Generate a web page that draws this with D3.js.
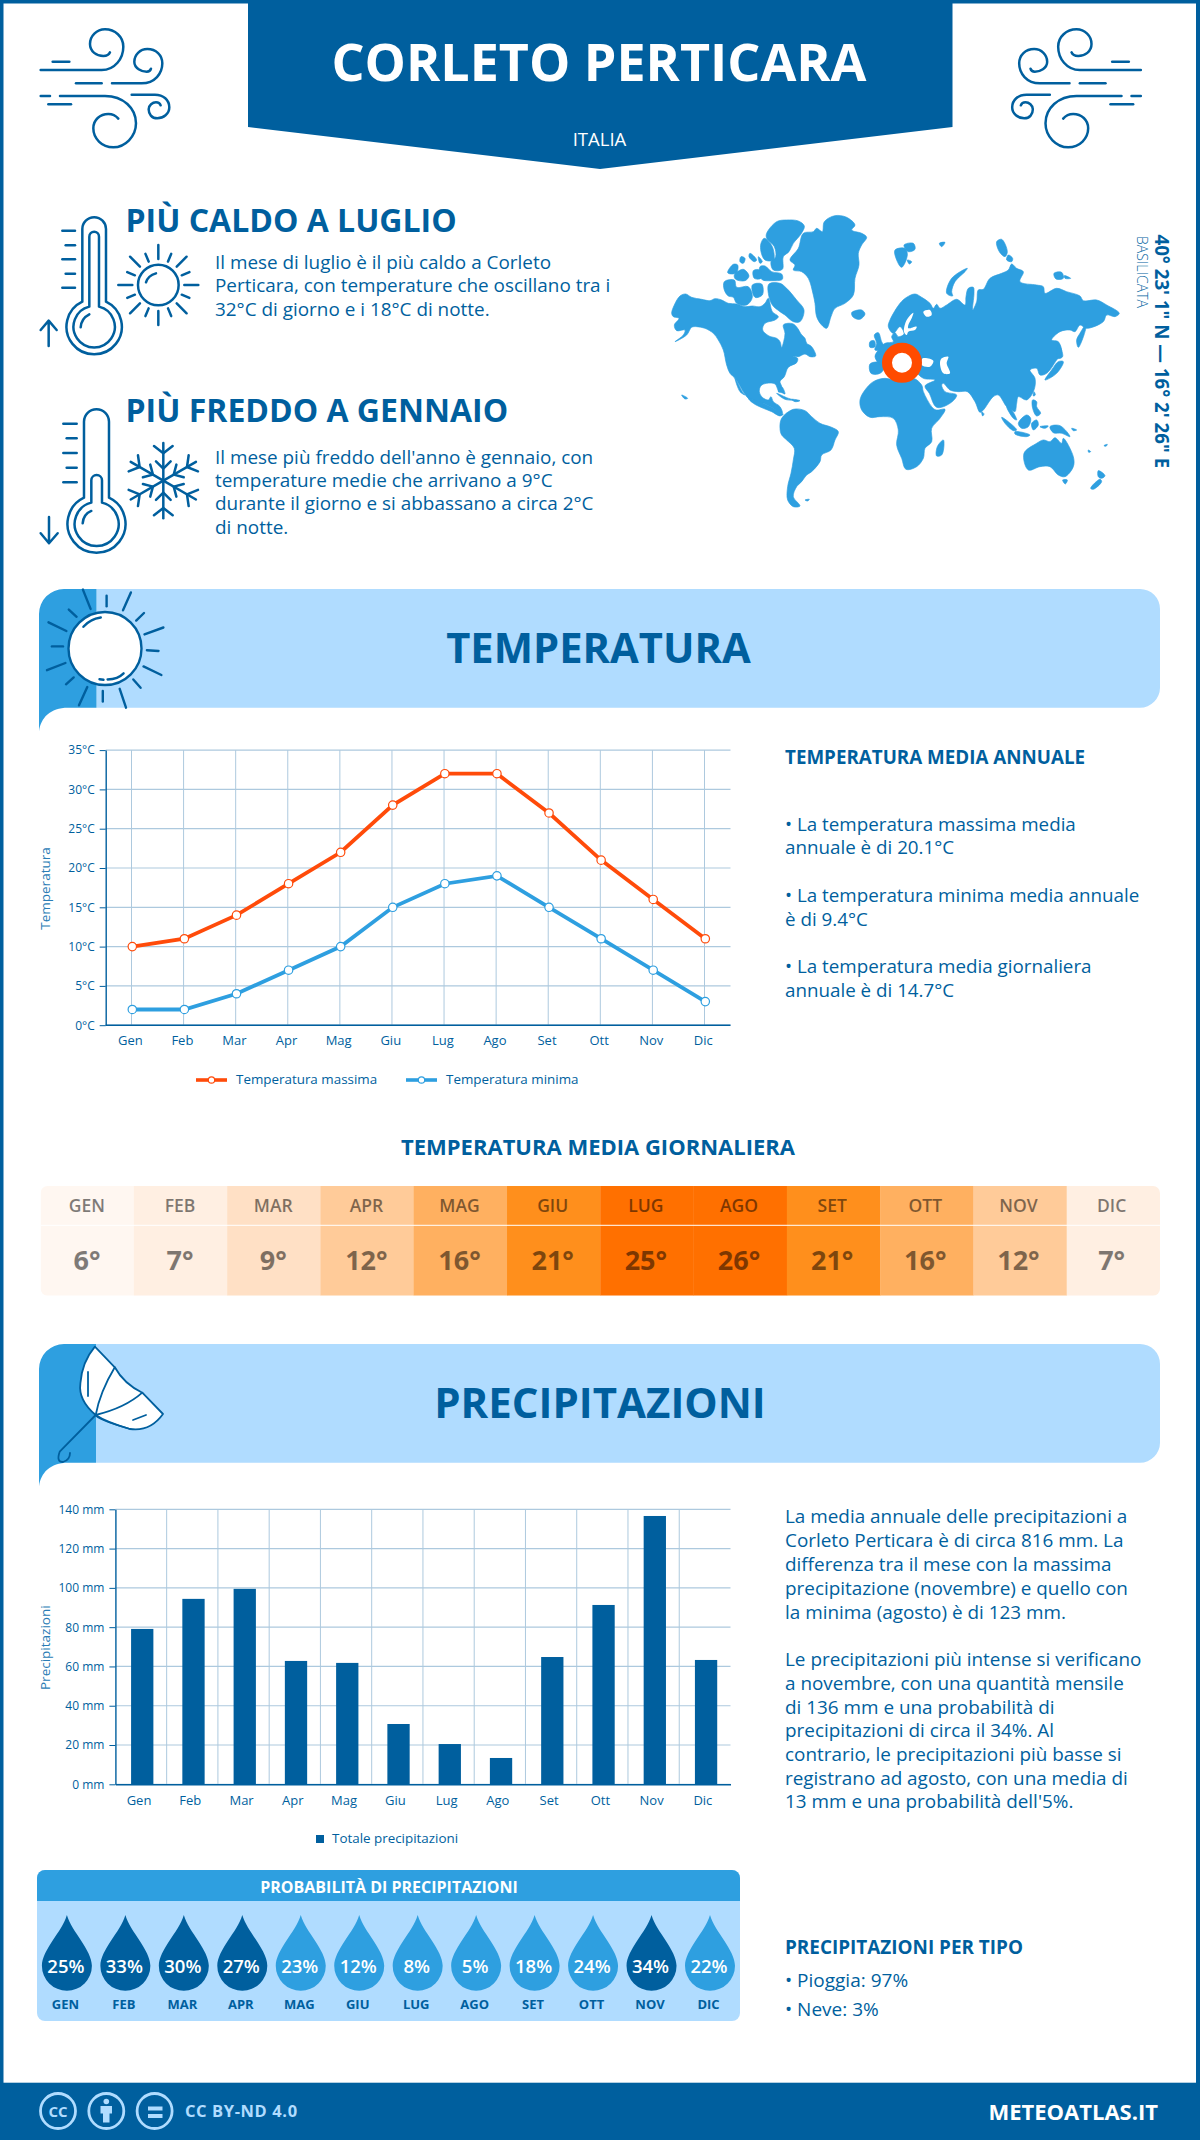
<!DOCTYPE html>
<html><head><meta charset="utf-8">
<script src="https://cdn.jsdelivr.net/npm/d3@7/dist/d3.min.js"></script>
<style>
html,body{margin:0;padding:0;background:#fff}
svg{display:block}
text{font-family:"Open Sans",sans-serif}
.ax text{font-family:"Open Sans",sans-serif}
</style></head><body>
<svg id="c" width="1200" height="2140" viewBox="0 0 1200 2140"></svg>
<script>
// ---------- chart data ----------
const months = ["Gen","Feb","Mar","Apr","Mag","Giu","Lug","Ago","Set","Ott","Nov","Dic"];
const monthsUpper = ["GEN","FEB","MAR","APR","MAG","GIU","LUG","AGO","SET","OTT","NOV","DIC"];
const tempMax = [10,11,14,18,22,28,32,32,27,21,16,11];
const tempMin = [2,2,4,7,10,15,18,19,15,11,7,3];
const tempMean = [6,7,9,12,16,21,25,26,21,16,12,7];
const rainTotal = [79.1,94.4,99.5,62.8,61.8,30.7,20.5,13.4,64.8,91.3,136.6,63.3];
const rainProb = [25,33,30,27,23,12,8,5,18,24,34,22];
const tempTicks = [0,5,10,15,20,25,30,35];
const rainTicks = [0,20,40,60,80,100,120,140];
const title = "CORLETO PERTICARA";
const country = "ITALIA";
const region = "BASILICATA";
const coords = "40° 23' 1\" N — 16° 2' 26\" E";
const hotHead = "PIÙ CALDO A LUGLIO";
const hotText = ["Il mese di luglio è il più caldo a Corleto","Perticara, con temperature che oscillano tra i","32°C di giorno e i 18°C di notte."];
const coldHead = "PIÙ FREDDO A GENNAIO";
const coldText = ["Il mese più freddo dell'anno è gennaio, con","temperature medie che arrivano a 9°C","durante il giorno e si abbassano a circa 2°C","di notte."];
const annualText = [["• La temperatura massima media",831],["annuale è di 20.1°C",854],["• La temperatura minima media annuale",902],["è di 9.4°C",926],["• La temperatura media giornaliera",973],["annuale è di 14.7°C",997]];
const rainText = [["La media annuale delle precipitazioni a",1523.3],["Corleto Perticara è di circa 816 mm. La",1547],["differenza tra il mese con la massima",1571],["precipitazione (novembre) e quello con",1595],["la minima (agosto) è di 123 mm.",1619],["Le precipitazioni più intense si verificano",1666],["a novembre, con una quantità mensile",1690],["di 136 mm e una probabilità di",1713.6],["precipitazioni di circa il 34%. Al",1737],["contrario, le precipitazioni più basse si",1761],["registrano ad agosto, con una media di",1784.5],["13 mm e una probabilità dell'5%.",1808.3]];

// ---------- palette ----------
const DARK="#005f9e", MID="#2e9fe0", LIGHT="#b0dcff", GRID="#adc9de", ORANGE="#ff4b0a";
const svg=d3.select("#c");
function T(g,x,y,s,o={}){
  return g.append("text").attr("x",x).attr("y",y).text(s)
   .attr("font-size",o.size||18).attr("font-weight",o.w||400).attr("fill",o.fill||DARK)
   .attr("text-anchor",o.a||"start").attr("opacity",o.op==null?null:o.op)
   .attr("letter-spacing",o.ls==null?null:o.ls);
}
// page frame
svg.append("rect").attr("width",1200).attr("height",2140).attr("fill",DARK);
svg.append("rect").attr("x",3.5).attr("y",3.5).attr("width",1192.5).attr("height",2079.2).attr("fill","#fff");
// header
svg.append("path").attr("d","M248,0H952.5V127L600,169L248,127Z").attr("fill",DARK);
T(svg,599,80.7,title,{size:52,w:700,fill:"#fff",a:"middle"});
T(svg,599.5,145.5,country,{size:18.5,w:400,fill:"#fff",a:"middle"});

// wind icon
const windPaths=["M32,150H215C255,150 280,115 280,80C280,50 255,28 225,28C200,28 180,48 180,72C180,95 200,108 220,108C232,108 238,102 240,97",
"M68,125H118","M246,190H335C375,190 397,160 397,130C397,105 378,87 352,87C330,87 313,105 313,125C313,145 335,155 350,155C357,155 362,150 363,146",
"M138,190H215","M90,228H225C280,228 318,265 318,310C318,350 285,382 250,382C215,382 190,355 190,325C190,300 210,282 235,282C250,282 260,290 265,296",
"M32,228H60","M55,253H123","M305,224H375C400,224 418,240 418,262C418,282 400,295 382,295C365,295 356,282 356,268C356,255 368,247 378,247C385,247 390,250 392,256"];
function wind(tr){const g=svg.append("g").attr("transform",tr).attr("fill","none").attr("stroke",DARK).attr("stroke-width",7.5).attr("stroke-linecap","round");
 windPaths.forEach(d=>g.append("path").attr("d",d));}
wind("translate(30,20) scale(.3333)");
wind("translate(1151.5,20) scale(-.3333,.3333)");

// thermometers + sun + snowflake, drawn in 3x crop space
const ic=svg.append("g").attr("transform","translate(30,205) scale(.3333)").attr("fill","none").attr("stroke",DARK).attr("stroke-width",7.5).attr("stroke-linecap","round").attr("stroke-linejoin","round");
["M157,290V72A35,35 0 0 1 228,72V290A83,83 0 1 1 157,290Z","M178,305V95A14.5,14.5 0 0 1 207,95V305A62,62 0 1 1 178,305Z","M152,367Q154,340 178,328","M56,423V347M32,375L56,347L80,375",
 "M97,77H135","M107,121H135","M97,163H135","M107,206H135","M97,248H135",
 "M162,878V650A37.5,37.5 0 0 1 237,650V878A87,87 0 1 1 162,878Z","M184,893V826A16,16 0 0 1 216,826V893A66,66 0 1 1 184,893Z","M158,955Q160,928 184,918","M57,936V1015M32,985L57,1015L83,985",
 "M100,656H140","M110,700H140","M100,744H140","M110,788H140","M100,832H140","M348,232Q354,212 378,205"].forEach(d=>ic.append("path").attr("d",d));
ic.append("circle").attr("cx",385).attr("cy",240).attr("r",61);
d3.range(16).forEach(i=>{const a=i*Math.PI/8,long=i%2===0;
  const r0=long?78:76,r1=long?120:101;
  ic.append("line").attr("x1",385+r0*Math.cos(a)).attr("y1",240+r0*Math.sin(a)).attr("x2",385+r1*Math.cos(a)).attr("y2",240+r1*Math.sin(a));});
d3.range(6).forEach(i=>{const g=ic.append("g").attr("transform",`translate(400,827) rotate(${i*60})`);
  ["M0,0V-113","M-28,-104L0,-82L28,-104","M-22,-58L0,-36L22,-58"].forEach(d=>g.append("path").attr("d",d));});

T(svg,125.5,231.5,hotHead,{size:32,w:700});
hotText.forEach((s,i)=>T(svg,215,269+i*23.4,s,{size:18.9}));
T(svg,125.5,421.7,coldHead,{size:32,w:700});
coldText.forEach((s,i)=>T(svg,215,463.5+i*23.4,s,{size:18.9}));

// ---------- world map (outline, 3x crop space) ----------
const mapLeft=[
[[20,310],[28,285],[45,258],[62,252],[80,262],[110,268],[135,272],[150,266],[170,270],[190,280],[215,282],[240,290],[262,288],[285,290],[300,280],[310,265],[322,305],[340,320],[330,330],[300,340],[293,360],[312,378],[335,385],[345,395],[350,412],[356,395],[360,370],[355,345],[368,340],[385,342],[398,355],[408,372],[420,385],[425,400],[440,410],[452,438],[435,440],[420,432],[400,440],[385,438],[398,445],[395,458],[370,472],[358,500],[345,515],[350,530],[342,545],[330,522],[305,520],[288,527],[283,545],[292,562],[310,570],[318,560],[325,575],[345,590],[352,610],[345,612],[325,595],[300,582],[270,572],[250,565],[238,550],[220,520],[210,505],[195,490],[185,465],[175,420],[160,390],[145,370],[120,355],[95,350],[80,352],[65,375],[30,395],[55,375],[60,360],[35,362],[28,345],[42,325],[25,320]],
[[250,565],[270,570],[300,582],[325,595],[345,610],[355,612],[345,618],[320,605],[295,595],[265,580]],
[[340,545],[350,530],[360,552],[350,548]],[[335,550],[365,563],[385,570],[360,568]],[[380,568],[405,572],[390,575]],[[210,505],[232,545],[240,555],[225,545]],[[50,555],[68,565],[60,567]],
[[305,70],[335,35],[365,30],[400,33],[418,48],[408,72],[385,100],[372,125],[355,140],[352,178],[325,180],[318,155],[332,140],[328,110],[305,85]],
[[288,100],[298,85],[322,110],[325,150],[300,150],[288,125]],
[[188,188],[205,163],[218,165],[215,188],[200,192]],[[208,195],[235,178],[252,198],[240,212],[212,208]],
[[178,215],[208,210],[215,232],[250,230],[262,262],[245,285],[215,280],[205,262],[190,258],[178,240]],
[[312,222],[345,220],[365,235],[395,270],[417,300],[405,335],[385,335],[360,315],[345,305],[322,285],[310,250]],
[[262,225],[290,222],[292,255],[270,262]],[[285,170],[300,168],[320,185],[350,192],[352,208],[320,212],[290,208]],[[265,182],[285,180],[288,205],[268,205]],
[[255,130],[275,150],[268,155],[252,140]],[[228,140],[240,145],[235,160],[225,155]],[[280,140],[292,155],[285,160]],
[[375,150],[400,115],[415,70],[445,65],[455,55],[472,65],[478,35],[510,17],[545,22],[570,45],[560,60],[590,70],[605,82],[590,105],[580,130],[582,165],[570,205],[565,255],[540,280],[510,295],[498,320],[485,355],[470,345],[455,320],[450,280],[445,255],[430,205],[410,185],[385,180],[390,165]],
[[560,308],[590,300],[600,312],[585,328],[565,322]],
[[345,655],[350,625],[385,598],[420,602],[440,620],[465,640],[500,652],[520,665],[510,690],[498,720],[470,735],[465,755],[440,785],[425,795],[410,815],[395,830],[385,860],[405,888],[385,890],[368,870],[368,830],[378,790],[385,750],[388,715],[365,690],[350,675]],
[[420,870],[433,868],[428,873]],
[[628,375],[640,368],[650,395],[660,415],[630,420],[635,400]],[[615,395],[628,392],[630,410],[615,412]],[[615,462],[650,458],[655,480],[640,492],[618,490]]
];
const mapRight=[
[[25,350],[30,330],[60,280],[80,262],[105,252],[125,262],[150,280],[160,295],[170,283],[180,295],[200,285],[230,268],[255,285],[258,260],[265,235],[280,232],[282,250],[278,300],[290,275],[295,240],[310,238],[330,205],[365,190],[385,180],[395,162],[410,175],[430,185],[420,215],[470,225],[490,230],[495,250],[530,235],[560,245],[600,258],[610,272],[650,270],[680,285],[718,310],[705,320],[680,315],[670,335],[620,355],[600,345],[585,365],[570,360],[540,365],[515,390],[535,395],[545,430],[530,450],[500,490],[480,495],[470,475],[450,480],[465,505],[462,540],[440,570],[415,560],[410,580],[405,605],[395,600],[380,590],[355,555],[340,560],[310,600],[300,607],[285,575],[262,545],[235,545],[210,540],[190,520],[185,525],[195,545],[230,555],[210,580],[170,592],[148,550],[135,528],[165,510],[130,505],[100,480],[60,460],[10,470],[-15,440],[0,415],[15,400],[40,395],[35,380],[45,368],[55,380],[72,372],[60,350],[40,370]],
[[-60,570],[-45,540],[-20,515],[15,505],[60,515],[100,505],[125,525],[130,545],[155,590],[168,600],[195,598],[180,625],[155,655],[155,695],[135,715],[130,745],[110,770],[78,778],[65,745],[50,705],[55,660],[40,625],[0,620],[-30,622],[-55,600]],
[[172,710],[190,690],[192,705],[185,735],[170,738]],
[[45,120],[75,115],[82,135],[65,172],[50,150]],[[72,105],[100,100],[105,118],[85,125]],[[82,150],[95,155],[88,162]],[[178,100],[195,97],[185,110]],
[[200,250],[215,205],[262,175],[255,185],[225,215],[215,245],[218,258]],
[[350,95],[365,88],[382,125],[375,140],[358,125]],[[385,135],[398,145],[395,155],[380,150]],
[[522,190],[545,187],[550,205],[528,207]],[[553,197],[572,205],[555,205]],
[[600,370],[620,340],[612,375],[595,412],[590,390]],
[[495,510],[530,490],[550,455],[535,455],[515,480]],[[535,400],[548,440],[532,445]],
[[305,605],[312,612],[308,618]],[[462,545],[466,555],[460,558]],[[458,570],[470,575],[470,590],[482,610],[470,618],[458,595]],
[[380,590],[395,600],[410,630],[400,625]],
[[365,622],[385,635],[410,660],[400,662],[375,640]],[[405,665],[450,675],[440,680],[405,672]],[[415,640],[440,615],[452,625],[445,650],[425,655]],[[455,640],[470,630],[475,645],[460,660]],
[[510,650],[540,647],[570,680],[545,670],[520,668]],[[480,650],[505,648],[495,655]],
[[432,730],[470,700],[490,690],[510,695],[525,683],[545,700],[550,685],[580,740],[580,770],[555,800],[535,795],[510,770],[480,770],[445,780]],
[[548,810],[562,810],[556,822]],[[655,782],[675,797],[665,805],[655,800]],[[632,835],[660,808],[665,815],[640,838]],
[[625,720],[632,725],[626,727]],[[672,707],[682,703],[678,709]],[[575,655],[590,660],[580,662]]
];
const mapHoles=[[[185,445],[205,440],[200,460],[210,490],[190,490],[180,460]],
[[72,365],[80,330],[100,308],[95,325],[85,345],[85,355],[110,350],[105,360],[85,365],[80,375]],
[[130,305],[150,300],[155,315],[140,320]],[[128,445],[160,452],[150,470],[125,465]]];
const mapLine=d3.line().curve(d3.curveCatmullRomClosed.alpha(.5));
const gL=svg.append("g").attr("transform","translate(665,210) scale(.3333)").attr("fill",MID).attr("stroke",MID).attr("stroke-width",2);
mapLeft.forEach(p=>gL.append("path").attr("d",mapLine(p)));
const gR=svg.append("g").attr("transform","translate(880,210) scale(.3333)").attr("fill",MID).attr("stroke",MID).attr("stroke-width",2);
mapRight.forEach(p=>gR.append("path").attr("d",mapLine(p)));
mapHoles.forEach(p=>gR.append("path").attr("d",mapLine(p)).attr("fill","#fff").attr("stroke","none"));
svg.append("circle").attr("cx",902).attr("cy",362.8).attr("r",15).attr("fill","#fff").attr("stroke","#ff4b00").attr("stroke-width",10);
T(svg,0,0,coords,{size:18.7,w:700}).attr("transform","translate(1155,234.5) rotate(90)");
T(svg,0,0,region,{size:14,w:300}).attr("transform","translate(1137,236) rotate(90)");

// ---------- section banners ----------
function banner(y0,y1,tab,label,base,cx,size){
 const g=svg.append("g");
 g.append("path").attr("d",`M${tab},${y0}H1140A20,20 0 0 1 1160,${y0+20}V${y1-20}A20,20 0 0 1 1140,${y1}H${tab}Z`).attr("fill",LIGHT);
 g.append("path").attr("d",`M${tab},${y0}H64A25,25 0 0 0 39,${y0+25}V${y1+23.5}C41,${y1+10} 50,${y1} 68,${y1}H${tab}Z`).attr("fill",MID);
 T(g,cx,base,label,{size:size,w:700,a:"middle"});
}
banner(589,707.7,96.5,"TEMPERATURA",663,598.5,41.7);
banner(1344,1462.7,96,"PRECIPITAZIONI",1418.3,600,42);

// banner sun
const bs=svg.append("g").attr("stroke",DARK).attr("stroke-width",2.4).attr("fill","none").attr("stroke-linecap","round");
bs.append("circle").attr("cx",105).attr("cy",648.5).attr("r",36.5).attr("fill","#fff");
[[82.9,589.6,90.6,608.9],[130.9,592.4,123,610.3],[163.4,627.5,144.5,634.4],[161.4,675,143.5,666.4],[126,707.7,119.7,688.8],[79,705.3,87.3,687],[47,670.2,65.4,663],[48.5,622.3,66.4,631],
 [106.6,595.8,106.6,606.2],[144,613,136.2,620.6],[146.9,650.2,158.5,651],[133.3,679.5,140.6,687.8],[102.8,691,102.8,701.5],[73.7,677.4,66,684.3],[63,646.4,51.9,646.4],[76.6,616.8,68.8,609.6]]
 .forEach(r=>bs.append("line").attr("x1",r[0]).attr("y1",r[1]).attr("x2",r[2]).attr("y2",r[3]));
bs.append("path").attr("d","M83.4,626.8Q90,619 100.8,617.5M107.6,679.5Q118,679 123.6,673.3M99.5,679.2L103.5,679.8");

// umbrella
const um=svg.append("g").attr("stroke",DARK).attr("stroke-width",1.8).attr("stroke-linejoin","round").attr("stroke-linecap","round");
um.append("path").attr("fill","#fff").attr("d","M94.9,1346.7L114.8,1367.3Q124,1384 142.3,1392.7L163,1414Q150,1432 130,1429Q106,1422 95.7,1415Q78,1400 80.4,1383.3Q82,1362 94.9,1346.7Z");
um.append("path").attr("fill","none").attr("d","M114.8,1367.3Q100,1392 95.7,1415M142.3,1392.7Q125,1408 95.7,1415Q96,1419 130,1429M95.7,1415L59.7,1451.7Q56,1462 63,1462Q70,1460 70,1453M88,1372V1396M133,1420L146,1415");

// ---------- temperature chart ----------
const tx=d3.scalePoint().domain(months).range([132.3,705.3]);
const ty=d3.scaleLinear().domain([0,35]).range([1025.2,750.1]);
const tc=svg.append("g");
function grids(g,xs,y0,y1,ys,xl,xr){
 xs.forEach(x=>g.append("line").attr("x1",x).attr("x2",x).attr("y1",y0).attr("y2",y1).attr("stroke",GRID).attr("stroke-width",1));
 ys.forEach(y=>g.append("line").attr("x1",xl).attr("x2",xr).attr("y1",y).attr("y2",y).attr("stroke",GRID).attr("stroke-width",1.2));
}
grids(tc,months.map(m=>tx(m)-.8),750.1,1025.2,tempTicks.map(ty),105.7,730.5);
function axisStyle(a,size){a.attr("class","ax");a.selectAll("text").attr("fill",DARK).attr("font-size",size).attr("font-family","'Open Sans',sans-serif");
 a.selectAll("line").attr("stroke",DARK);a.selectAll(".domain").attr("stroke",DARK).attr("stroke-width",1.4);}
const tya=tc.append("g").attr("transform","translate(105.7,0)").call(d3.axisLeft(ty).tickValues(tempTicks).tickFormat(d=>d+"°C").tickSize(6).tickPadding(5).tickSizeOuter(0));axisStyle(tya,12);
const txa=tc.append("g").attr("transform","translate(0,1025.2)").call(d3.axisBottom(tx).tickSize(0).tickPadding(11));axisStyle(txa,13);
txa.selectAll(".domain").remove();txa.selectAll("text").attr("dx",-2.5);
tc.append("line").attr("x1",105.7).attr("x2",730.5).attr("y1",1025.2).attr("y2",1025.2).attr("stroke",DARK).attr("stroke-width",1.4);
T(tc,0,0,"Temperatura",{size:13.5,fill:"#2a7cb5",a:"middle"}).attr("transform","translate(50,888.5) rotate(-90)");
function series(vals,col){
 const ln=d3.line().x((d,i)=>tx(months[i])).y(d=>ty(d));
 tc.append("path").attr("d",ln(vals)).attr("fill","none").attr("stroke",col).attr("stroke-width",3.8);
 vals.forEach((d,i)=>tc.append("circle").attr("cx",tx(months[i])).attr("cy",ty(d)).attr("r",4.2).attr("fill","#fff").attr("stroke",col).attr("stroke-width",1.2));
}
series(tempMax,ORANGE);series(tempMin,MID);
[[196,227,211.5,236,"Temperatura massima",ORANGE],[406,437,421.5,446,"Temperatura minima",MID]].forEach(l=>{
 tc.append("line").attr("x1",l[0]).attr("x2",l[1]).attr("y1",1080).attr("y2",1080).attr("stroke",l[5]).attr("stroke-width",3.6);
 tc.append("circle").attr("cx",l[2]).attr("cy",1080).attr("r",3.2).attr("fill","#fff").attr("stroke",l[5]).attr("stroke-width",1.2);
 T(tc,l[3],1084,l[4],{size:13.4});
});
T(svg,785,764,"TEMPERATURA MEDIA ANNUALE",{size:18.8,w:700});
annualText.forEach(a=>T(svg,785,a[1],a[0],{size:18.8}));

// ---------- mean temperature strip ----------
T(svg,598,1154.7,"TEMPERATURA MEDIA GIORNALIERA",{size:22,w:700,a:"middle"});
const heat=d3.scaleThreshold().domain([7,9,12,16,21,25]).range(["#fff7f1","#ffefe2","#ffe0c5","#ffcb99","#ffb060","#ff8f1c","#ff7000"]);
const hx=d3.scaleBand().domain(months).range([40.6,1160]);
svg.append("clipPath").attr("id","hc").append("rect").attr("x",40.6).attr("y",1186).attr("width",1119.4).attr("height",109.7).attr("rx",7);
const hg=svg.append("g").attr("clip-path","url(#hc)");
tempMean.forEach((v,i)=>hg.append("rect").attr("x",hx(months[i])).attr("y",1186).attr("width",hx.bandwidth()+.3).attr("height",109.7).attr("fill",heat(v)));
hg.append("rect").attr("x",40.6).attr("y",1224.8).attr("width",1119.4).attr("height",1).attr("fill","#fff");
tempMean.forEach((v,i)=>{const cx=hx(months[i])+hx.bandwidth()/2-.3-i*.13;
 T(svg,cx,1212,monthsUpper[i],{size:17.5,w:600,fill:"#000",a:"middle",op:.5});
 T(svg,cx,1270,v+"°",{size:27,w:700,fill:"#000",a:"middle",op:.5});});

// ---------- precipitation chart ----------
const rx=d3.scaleBand().domain(months).range([115.4,730.5]).paddingInner(.565).paddingOuter(.2825);
const ry=d3.scaleLinear().domain([0,140]).range([1784.3,1509.3]);
const rc=svg.append("g");
const step=rx.step();
grids(rc,months.slice(1).map(m=>rx(m)-step*.2825),1509.3,1784.3,rainTicks.map(ry),115.4,730.5);
const rya=rc.append("g").attr("transform","translate(115.4,0)").call(d3.axisLeft(ry).tickValues(rainTicks).tickFormat(d=>d+" mm").tickSize(6).tickPadding(5).tickSizeOuter(0));axisStyle(rya,12);
rainTotal.forEach((v,i)=>rc.append("rect").attr("x",rx(months[i])+1.2).attr("y",ry(v)).attr("width",rx.bandwidth()).attr("height",1784.3-ry(v)).attr("fill",DARK));
const rxa=rc.append("g").attr("transform","translate(0,1784.3)").call(d3.axisBottom(rx).tickSize(0).tickPadding(11));axisStyle(rxa,13);
rxa.selectAll("text").attr("dx",-2);
T(rc,0,0,"Precipitazioni",{size:13.5,fill:"#2a7cb5",a:"middle"}).attr("transform","translate(50,1647.7) rotate(-90)");
rc.append("rect").attr("x",316).attr("y",1835).attr("width",8).attr("height",8).attr("fill",DARK);
T(rc,332,1843,"Totale precipitazioni",{size:13.4});
rainText.forEach(a=>T(svg,785,a[1],a[0],{size:18.9}));

// ---------- probability panel ----------
svg.append("rect").attr("x",37).attr("y",1870).attr("width",703).attr("height",151).attr("rx",8).attr("fill",LIGHT);
svg.append("path").attr("d","M37,1901V1878A8,8 0 0 1 45,1870H732A8,8 0 0 1 740,1878V1901Z").attr("fill",MID);
T(svg,389,1892.7,"PROBABILITÀ DI PRECIPITAZIONI",{size:16,w:700,fill:"#fff",a:"middle"});
const px=d3.scalePoint().domain(months).range([66.9,710]);
rainProb.forEach((v,i)=>{const c=px(months[i]);
 svg.append("path").attr("fill",v>=25?DARK:MID).attr("d",`M${c},1915C${c+5},1932 ${c+25},1950 ${c+25},1965.7A25,25 0 1 1 ${c-25},1965.7C${c-25},1950 ${c-5},1932 ${c},1915Z`);
 T(svg,c-1,1973.3,v+"%",{size:18.5,w:600,fill:"#fff",a:"middle"});
 T(svg,c-1.5,2009,monthsUpper[i],{size:13,w:700,a:"middle"});
});
T(svg,785,1953.5,"PRECIPITAZIONI PER TIPO",{size:18.9,w:700});
T(svg,785,1987,"• Pioggia: 97%",{size:19});
T(svg,785,2015.8,"• Neve: 3%",{size:19});

// ---------- footer ----------
const f=svg.append("g");
[58,106.3,154.6].forEach(x=>f.append("circle").attr("cx",x).attr("cy",2111).attr("r",17.5).attr("fill","none").attr("stroke",LIGHT).attr("stroke-width",2.8));
T(f,58,2116.7,"CC",{size:15,w:700,fill:LIGHT,a:"middle"});
f.append("circle").attr("cx",106.3).attr("cy",2101.5).attr("r",2.8).attr("fill",LIGHT);
f.append("path").attr("d","M100.5,2106H112V2113.5H109.5V2122.5H103V2113.5H100.5Z").attr("fill",LIGHT);
f.append("rect").attr("x",148).attr("y",2106.5).attr("width",14.5).attr("height",4).attr("fill",LIGHT);
f.append("rect").attr("x",148).attr("y",2114).attr("width",14.5).attr("height",4).attr("fill",LIGHT);
T(f,185,2117.3,"CC BY-ND 4.0",{size:16.5,w:700,fill:LIGHT,ls:.6});
T(f,1158,2119.7,"METEOATLAS.IT",{size:22,w:700,fill:"#fff",a:"end"});
</script>
</body></html>
